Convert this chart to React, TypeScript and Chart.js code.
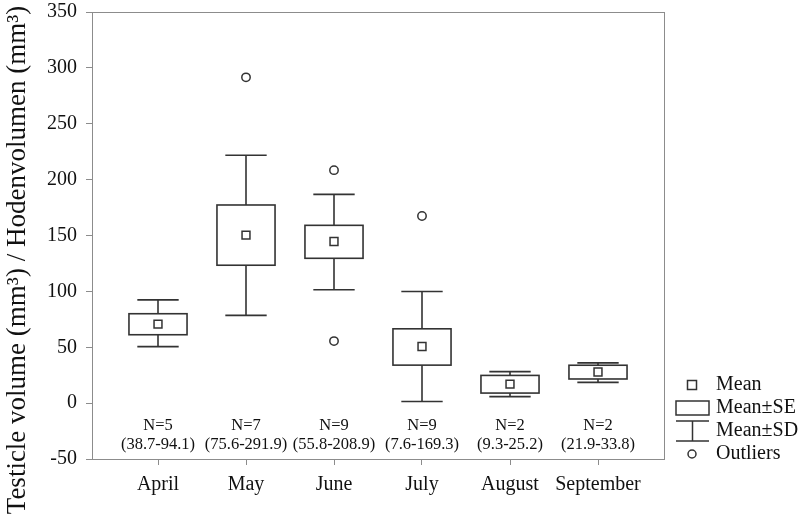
import React, { useEffect, useRef } from 'react';
import { Chart, registerables } from 'chart.js';

Chart.register(...registerables);

const months = ['April', 'May', 'June', 'July', 'August', 'September'];
const sampleN = [5, 7, 9, 9, 2, 2];
const rangeLabels = ['(38.7-94.1)', '(75.6-291.9)', '(55.8-208.9)', '(7.6-169.3)', '(9.3-25.2)', '(21.9-33.8)'];
const means = [70.7, 150.3, 144.6, 50.7, 17.0, 27.8];
const seLow = [61.2, 123.4, 129.6, 34.0, 9.0, 21.6];
const seHigh = [80.0, 177.3, 159.1, 66.5, 24.8, 33.9];
const sdLow = [50.6, 78.5, 101.5, 1.5, 5.8, 18.6];
const sdHigh = [92.4, 221.8, 186.8, 99.9, 28.2, 36.0];
const outlierMonth = [1, 2, 2, 3];
const outlierValue = [291.5, 208.5, 55.5, 167.5];
const yTitle = 'Testicle volume (mm\u00B3) / Hodenvolumen (mm\u00B3)';
const legendLabels = ['Mean', 'Mean\u00B1SE', 'Mean\u00B1SD', 'Outliers'];

const FONT = "'Liberation Serif', 'Times New Roman', serif";
const INK = '#333';
const FRAME = '#8c8c8c';
const BOX_HALF = 0.33;
const CAP_HALF = 0.235;

const boxPlugin = {
  id: 'boxPlugin',
  beforeDatasetsDraw(chart: any) {
    const { ctx, chartArea, scales } = chart;
    const xs = scales.x;
    const ys = scales.y;
    ctx.save();
    ctx.strokeStyle = FRAME;
    ctx.lineWidth = 1;
    ctx.strokeRect(chartArea.left + 0.5, chartArea.top + 0.5, chartArea.right - chartArea.left, chartArea.bottom - chartArea.top);
    ctx.strokeStyle = INK;
    ctx.lineWidth = 1.6;
    months.forEach((_, i) => {
      const cx = xs.getPixelForValue(i);
      const bl = xs.getPixelForValue(i - BOX_HALF);
      const br = xs.getPixelForValue(i + BOX_HALF);
      const cl = xs.getPixelForValue(i - CAP_HALF);
      const cr = xs.getPixelForValue(i + CAP_HALF);
      const yTop = ys.getPixelForValue(seHigh[i]);
      const yBot = ys.getPixelForValue(seLow[i]);
      const yHi = ys.getPixelForValue(sdHigh[i]);
      const yLo = ys.getPixelForValue(sdLow[i]);
      ctx.beginPath();
      ctx.moveTo(cx, yTop);
      ctx.lineTo(cx, yHi);
      ctx.moveTo(cl, yHi);
      ctx.lineTo(cr, yHi);
      ctx.moveTo(cx, yBot);
      ctx.lineTo(cx, yLo);
      ctx.moveTo(cl, yLo);
      ctx.lineTo(cr, yLo);
      ctx.stroke();
      ctx.fillStyle = '#fff';
      ctx.fillRect(bl, yTop, br - bl, yBot - yTop);
      ctx.strokeRect(bl, yTop, br - bl, yBot - yTop);
    });
    ctx.restore();
  },
  afterDraw(chart: any) {
    const { ctx, chartArea, scales } = chart;
    const xs = scales.x;
    ctx.save();
    ctx.fillStyle = '#111';
    ctx.textAlign = 'center';
    ctx.textBaseline = 'middle';
    ctx.font = `16.5px ${FONT}`;
    months.forEach((_, i) => {
      const cx = xs.getPixelForValue(i);
      ctx.fillText(`N=${sampleN[i]}`, cx, chartArea.bottom - 33);
      ctx.fillText(rangeLabels[i], cx, chartArea.bottom - 14);
    });

    // y title
    ctx.save();
    ctx.translate(18, 260);
    ctx.rotate(-Math.PI / 2);
    ctx.font = `27px ${FONT}`;
    ctx.fillText(yTitle, 0, 0);
    ctx.restore();

    // legend
    const sx = chartArea.right + 28;
    const tx = chartArea.right + 52;
    const rows = [385, 408, 431, 454].map((v) => v - 459 + chartArea.bottom);
    ctx.strokeStyle = INK;
    ctx.lineWidth = 1.5;
    ctx.fillStyle = '#fff';
    ctx.fillRect(sx - 4.5, rows[0] - 4.5, 9, 9);
    ctx.strokeRect(sx - 4.5, rows[0] - 4.5, 9, 9);
    ctx.strokeRect(sx - 16, rows[1] - 7, 33, 14);
    ctx.beginPath();
    ctx.moveTo(sx - 16, rows[2] - 10);
    ctx.lineTo(sx + 17, rows[2] - 10);
    ctx.moveTo(sx + 0.5, rows[2] - 10);
    ctx.lineTo(sx + 0.5, rows[2] + 10);
    ctx.moveTo(sx - 16, rows[2] + 10);
    ctx.lineTo(sx + 17, rows[2] + 10);
    ctx.stroke();
    ctx.beginPath();
    ctx.arc(sx, rows[3], 4, 0, Math.PI * 2);
    ctx.stroke();
    ctx.fillStyle = '#111';
    ctx.textAlign = 'left';
    ctx.font = `20px ${FONT}`;
    legendLabels.forEach((t, i) => ctx.fillText(t, tx, rows[i]));
    ctx.restore();
  },
};

export default function App() {
  const ref = useRef<HTMLCanvasElement | null>(null);
  useEffect(() => {
    if (!ref.current) return;
    const chart = new Chart(ref.current, {
      type: 'scatter',
      data: {
        datasets: [
          {
            label: 'Mean',
            data: months.map((_, i) => ({ x: i, y: means[i] })),
            pointStyle: 'rect',
            pointRadius: 5.6,
            pointBorderWidth: 1.5,
            borderColor: INK,
            backgroundColor: '#fff',
          },
          {
            label: 'Outliers',
            data: outlierMonth.map((m, i) => ({ x: m, y: outlierValue[i] })),
            pointStyle: 'circle',
            pointRadius: 4.2,
            pointBorderWidth: 1.5,
            borderColor: INK,
            backgroundColor: '#fff',
          },
        ],
      },
      options: {
        animation: false,
        responsive: false,
        layout: { padding: { left: 0, right: 140, top: 12, bottom: 0 } },
        plugins: { legend: { display: false }, tooltip: { enabled: false } },
        scales: {
          x: {
            type: 'linear',
            min: -0.75,
            max: 5.75,
            afterBuildTicks: (scale: any) => {
              scale.ticks = months.map((_, i) => ({ value: i }));
            },
            afterFit: (scale: any) => {
              scale.height = 58;
              scale.paddingLeft = 0;
              scale.paddingRight = 0;
            },
            ticks: {
              callback: (v: any) => months[v] ?? '',
              font: { family: FONT, size: 20 },
              color: '#111',
              padding: 8,
              maxRotation: 0,
              autoSkip: false,
            },
            grid: { drawOnChartArea: false, drawTicks: true, tickLength: 6, color: FRAME },
            border: { display: true, color: FRAME },
          },
          y: {
            min: -50,
            max: 350,
            afterFit: (scale: any) => {
              scale.width = 92;
              scale.paddingTop = 0;
              scale.paddingBottom = 0;
            },
            ticks: {
              stepSize: 50,
              font: { family: FONT, size: 20 },
              color: '#111',
              padding: 9,
            },
            grid: { drawOnChartArea: false, drawTicks: true, tickLength: 6, color: FRAME },
            border: { display: true, color: FRAME },
          },
        },
      },
      plugins: [boxPlugin],
    } as any);
    return () => chart.destroy();
  }, []);
  return (
    <div style={{ position: 'absolute', left: 0, top: 0, width: 804, height: 517, background: '#fff' }}>
      <canvas ref={ref} width={804} height={517} />
    </div>
  );
}
